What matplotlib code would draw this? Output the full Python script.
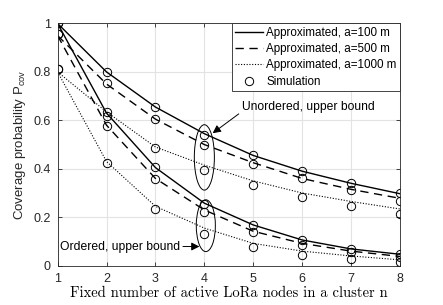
import matplotlib
matplotlib.use("Agg")
import matplotlib.pyplot as plt
from matplotlib.patches import Ellipse

plt.rcParams['font.family'] = ['Liberation Sans', 'DejaVu Sans']
plt.rcParams['mathtext.fontset'] = 'custom'
plt.rcParams['mathtext.rm'] = 'Liberation Sans'

n = [1, 2, 3, 4, 5, 6, 7, 8]

# approximated curves, unordered (upper bound)
unord_100 = [1.0, 0.80, 0.655, 0.545, 0.455, 0.39, 0.34, 0.297]
unord_500 = [0.95, 0.75, 0.605, 0.50, 0.425, 0.36, 0.315, 0.278]
unord_1000 = [0.80, 0.635, 0.49, 0.415, 0.35, 0.30, 0.265, 0.234]
# approximated curves, ordered (upper bound)
ord_100 = [1.0, 0.63, 0.405, 0.258, 0.168, 0.106, 0.069, 0.047]
ord_500 = [0.95, 0.58, 0.36, 0.23, 0.142, 0.092, 0.06, 0.038]
ord_1000 = [0.80, 0.43, 0.245, 0.155, 0.092, 0.06, 0.04, 0.024]

# simulation points
sim_unord_100 = [1.0, 0.80, 0.657, 0.54, 0.457, 0.391, 0.34, 0.298]
sim_unord_500 = [0.958, 0.754, 0.605, 0.50, 0.42, 0.36, 0.312, 0.267]
sim_unord_1000 = [0.81, 0.616, 0.485, 0.393, 0.332, 0.284, 0.246, 0.213]
sim_ord_100 = [1.0, 0.636, 0.409, 0.255, 0.168, 0.106, 0.069, 0.047]
sim_ord_500 = [0.958, 0.577, 0.357, 0.223, 0.138, 0.085, 0.058, 0.035]
sim_ord_1000 = [0.81, 0.423, 0.233, 0.131, 0.076, 0.044, 0.028, 0.014]

fig = plt.figure(figsize=(4.43, 3.05), dpi=100)
ax = fig.add_axes([0.130, 0.129, 0.773, 0.794])

lw = 1.0
l1, = ax.plot(n, unord_100, 'k-', lw=lw, label='Approximated, a=100 m')
l2, = ax.plot(n, unord_500, 'k', ls=(0, (6, 4)), lw=lw, label='Approximated, a=500 m')
l3, = ax.plot(n, unord_1000, 'k', ls=(0, (1, 1.5)), lw=0.8, label='Approximated, a=1000 m')
ax.plot(n, ord_100, 'k-', lw=lw)
ax.plot(n, ord_500, 'k', ls=(0, (6, 4)), lw=lw)
ax.plot(n, ord_1000, 'k', ls=(0, (1, 1.5)), lw=0.8)

sims = [sim_unord_100, sim_unord_500, sim_unord_1000,
        sim_ord_100, sim_ord_500, sim_ord_1000]
for i, s in enumerate(sims):
    h, = ax.plot(n, s, 'o', mfc='none', mec='k', ms=6, mew=0.7,
                 label='Simulation' if i == 0 else None)
    if i == 0:
        l4 = h

ax.set_xlim(1, 8)
ax.set_ylim(0, 1)
ax.set_xticks(n)
ax.set_yticks([0, 0.2, 0.4, 0.6, 0.8, 1])
ax.set_yticklabels(['0', '0.2', '0.4', '0.6', '0.8', '1'])
ax.grid(True, color='#e3e3e3', lw=0.8)
ax.set_axisbelow(True)
ax.tick_params(direction='in', top=True, right=True, labelsize=9,
               colors='#262626', length=3, width=0.6, pad=5)
for sp in ax.spines.values():
    sp.set_color('#262626')
    sp.set_linewidth(0.6)

ax.set_xlabel('Fixed number of active LoRa nodes in a cluster n',
              family='cmr10', fontsize=10.5, labelpad=1)
ax.set_ylabel(r'Coverage probability P$_{\mathregular{cov}}$', fontsize=9.5,
              color='#262626', labelpad=4)

leg = ax.legend(handles=[l1, l2, l3, l4], loc='upper right', fontsize=8.4,
                frameon=True, fancybox=False, edgecolor='#262626',
                borderaxespad=0, handlelength=2.4, handletextpad=0.25,
                labelspacing=0.36, borderpad=0.3, framealpha=1)
leg.get_frame().set_linewidth(0.6)

ax.add_patch(Ellipse((4.0, 0.447), 0.41, 0.27, fill=False, ec='k', lw=0.7))
ax.add_patch(Ellipse((4.03, 0.165), 0.39, 0.214, fill=False, ec='k', lw=0.7))

ax.annotate('Unordered, upper bound', xy=(4.17, 0.547), xytext=(4.76, 0.655),
            fontsize=8.7, va='center', ha='left',
            arrowprops=dict(arrowstyle='-|>', color='k', lw=0.7,
                            mutation_scale=12, shrinkA=0, shrinkB=0,
                            relpos=(0.0, 0.1)))
ax.annotate('Ordered, upper bound', xy=(3.90, 0.079), xytext=(1.05, 0.079),
            fontsize=8.7, va='center', ha='left',
            arrowprops=dict(arrowstyle='-|>', color='k', lw=0.7,
                            mutation_scale=12, shrinkA=0, shrinkB=0,
                            relpos=(1.0, 0.5)))

fig.savefig('out.png', dpi=100)
